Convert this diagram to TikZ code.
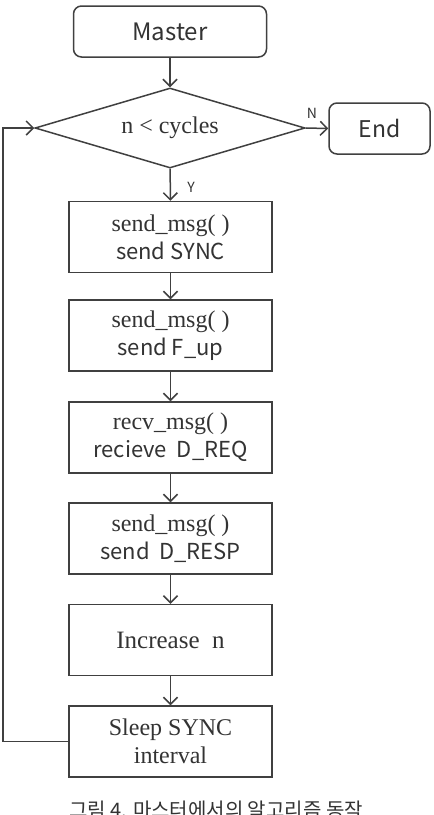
\documentclass[tikz,border=0pt]{standalone}
\usepackage{fontspec}
\setmainfont{Liberation Serif}
\newfontfamily\kr{Noto Sans CJK KR}
\usetikzlibrary{shapes.geometric,arrows.meta}
\definecolor{ln}{HTML}{404040}
\definecolor{tx}{HTML}{333333}
\tikzset{
  base/.style={draw=ln, line width=1.5pt, text=tx, align=center, inner sep=0pt},
  term/.style={base, rounded corners=8pt, minimum height=51pt, font=\kr\fontsize{24}{28}\selectfont},
  proc/.style={base, minimum width=203pt, minimum height=71pt, font=\fontsize{24}{28}\selectfont},
  dec/.style={base, diamond, aspect=3.4, minimum width=270pt, minimum height=80pt, font=\fontsize{24}{28}\selectfont},
  arr/.style={draw=ln, line width=1.5pt, -{Straight Barb[length=7pt,width=14pt,line width=1.5pt]}},
  lbl/.style={text=tx, font=\kr\fontsize{14}{16}\selectfont, inner sep=0pt}
}
\newcommand{\sn}[1]{{\kr\fontsize{22}{28}\selectfont #1}}
\begin{document}
\begin{tikzpicture}[x=1pt,y=-1pt]
\useasboundingbox[fill=white] (0,0) rectangle (434,815);
\node[term, minimum width=193pt] (master) at (170,31.5) {Master};
\node[dec] (cond) at (170,128) {n < cycles};
\node[term, minimum width=101pt, font=\kr\fontsize{23}{28}\selectfont] (end) at (379.5,128.5) {End};
\node[proc] (b1) at (170.5,237) {send\_msg(~)\\\sn{send SYNC}};
\node[proc] (b2) at (170.5,335.5) {send\_msg(~)\\\sn{send F\_up}};
\node[proc] (b3) at (170.5,437.5) {recv\_msg(~)\\\sn{recieve~ D\_REQ}};
\node[proc] (b4) at (170.5,538.5) {send\_msg(~)\\\sn{send~ D\_RESP}};
\node[proc, font=\fontsize{25}{28}\selectfont] (b5) at (170.5,640) {Increase~~n};
\node[proc] (b6) at (170.5,741.5) {Sleep SYNC\\interval};
\coordinate (lp) at (3,741.5);
\draw[arr] (master) -- (cond);
\draw[arr] (cond) -- (b1);
\draw[arr] (cond.east) -- (end.west);
\draw[arr] (b1) -- (b2);
\draw[arr] (b2) -- (b3);
\draw[arr] (b3) -- (b4);
\draw[arr] (b4) -- (b5);
\draw[arr] (b5) -- (b6);
\draw[arr] (b6.west) -- (lp) |- (cond.west);
\node[lbl] (ly) at (191,187) {Y};
\node[lbl] (ln) at (312,113) {N};
\node[text=tx, font=\kr\fontsize{20}{24}\selectfont, anchor=north, inner sep=0pt] (cap) at (216,801) {그림 4. 마스터에서의 알고리즘 동작};
\end{tikzpicture}
\end{document}
